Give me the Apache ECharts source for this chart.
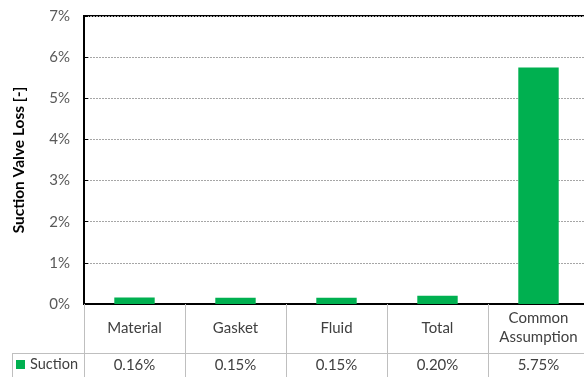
<!DOCTYPE html>
<html><head><meta charset="utf-8">
<script src="https://cdn.jsdelivr.net/npm/echarts@6/dist/echarts.min.js"></script>
<style>html,body{margin:0;padding:0;background:#fff}#c{width:584px;height:377px}</style>
</head><body><div id="c"></div>
<script>
const categories = ['Material', 'Gasket', 'Fluid', 'Total', 'Common\nAssumption'];
const suction = [0.0016, 0.0015, 0.0015, 0.0020, 0.0575];
const seriesName = 'Suction';
const yTicks = [0, 0.01, 0.02, 0.03, 0.04, 0.05, 0.06, 0.07];

const FONT = 'Lato';
const chart = echarts.init(document.getElementById('c'), null, {renderer: 'canvas'});
chart.setOption({
  animation: false,
  textStyle: {fontFamily: FONT},
  grid: {left: 84, top: 16, width: 505, height: 288, show: true, borderColor: '#000', borderWidth: 2,
    containLabel: false, outerBoundsMode: 'none'},
  legend: {
    data: [seriesName], left: 16, top: 357, icon: 'rect', itemWidth: 9, itemHeight: 9,
    textStyle: {fontFamily: FONT, fontSize: 14.5, color: '#404040'}, padding: 0
  },
  xAxis: [{
    type: 'category', data: categories, position: 'bottom',
    axisLine: {lineStyle: {color: '#000', width: 2}},
    axisTick: {show: true, length: 73, lineStyle: {color: '#bfbfbf', width: 1}},
    axisLabel: {fontFamily: FONT, fontSize: 15, color: '#404040', margin: 24, verticalAlign: 'middle', lineHeight: 19, interval: 0}
  }, {
    type: 'category', data: categories, position: 'bottom', offset: 49,
    axisLine: {lineStyle: {color: '#bfbfbf', width: 1}},
    axisTick: {show: false},
    axisLabel: {fontFamily: FONT, fontSize: 15, color: '#404040', margin: 12, verticalAlign: 'middle', interval: 0,
      formatter: (v, i) => (suction[i] * 100).toFixed(2) + '%'}
  }],
  yAxis: {
    type: 'value', min: yTicks[0], max: yTicks[yTicks.length - 1], interval: 0.01,
    name: 'Suction Valve Loss [-]', nameLocation: 'middle', nameGap: 57,
    nameTextStyle: {fontFamily: FONT, fontSize: 15.5, fontWeight: 'bold', color: '#000'},
    axisLine: {show: true, lineStyle: {color: '#000', width: 2}},
    axisTick: {show: true, length: 4, inside: true, lineStyle: {color: '#000'}},
    axisLabel: {fontFamily: FONT, fontSize: 15, color: '#595959', margin: 14, formatter: v => Math.round(v * 100) + '%'},
    splitLine: {lineStyle: {color: '#a6a6a6', type: [2, 1], width: 1}}
  },
  series: [{
    name: seriesName, type: 'bar', data: suction, barWidth: '40%',
    itemStyle: {color: '#00b050'}
  }],
  graphic: [
    {type: 'line', shape: {x1: 12, y1: 353.5, x2: 84, y2: 353.5}, style: {stroke: '#bfbfbf', lineWidth: 1}},
    {type: 'line', shape: {x1: 12.5, y1: 353, x2: 12.5, y2: 377}, style: {stroke: '#bfbfbf', lineWidth: 1}}
  ]
});
</script></body></html>
